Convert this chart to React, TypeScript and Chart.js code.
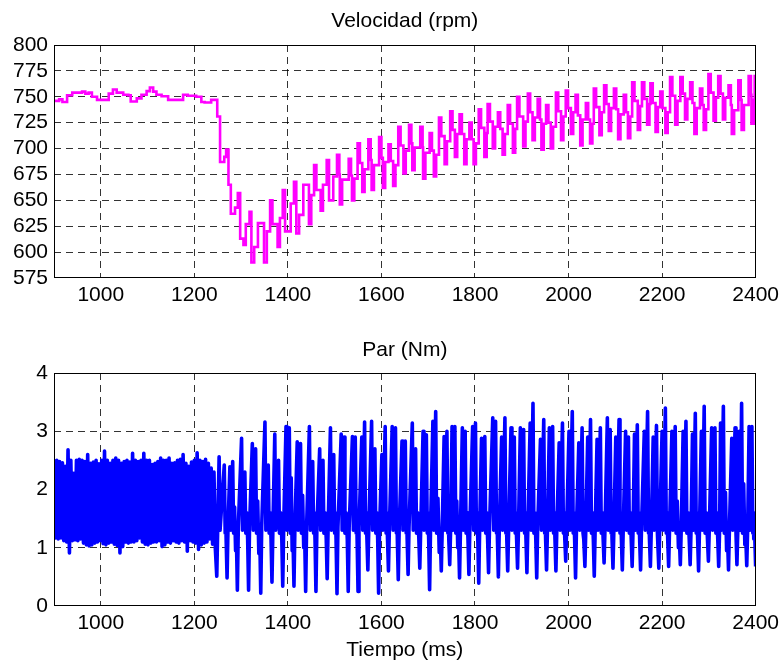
import React, { useEffect, useRef } from "react";
import { Chart, registerables } from "chart.js";

Chart.register(...registerables);

const FONT = "'Liberation Sans', Arial, Helvetica, sans-serif";

// ---------------- axes ----------------
const timeMin = 900;
const timeMax = 2400;
const timeTicks = [1000, 1200, 1400, 1600, 1800, 2000, 2200, 2400];
const velMin = 575;
const velMax = 800;
const velTicks = [575, 600, 625, 650, 675, 700, 725, 750, 775, 800];
const parMin = 0;
const parMax = 4;
const parTicks = [0, 1, 2, 3, 4];

const velTitle = "Velocidad (rpm)";
const parTitle = "Par (Nm)";
const timeTitle = "Tiempo (ms)";

// ---------------- velocity (rpm), step signal ----------------
const velStepT = [
  900, 911, 918, 928, 939, 960, 967, 974, 981, 992,
  1017, 1026, 1034, 1048, 1059, 1064, 1077, 1087, 1098, 1105,
  1112, 1119, 1130, 1144, 1176, 1186, 1204, 1215, 1222, 1236,
  1249, 1255, 1264, 1268, 1273, 1278, 1287, 1293, 1298, 1305,
  1310, 1318, 1322, 1328, 1336, 1349, 1355, 1362, 1367, 1378,
  1383, 1389, 1394, 1406, 1413, 1418, 1424, 1433, 1445, 1450,
  1456, 1461, 1470, 1475, 1483, 1488, 1497,
];
const velStepV = [
  746, 747.5, 745, 751.5, 754, 755, 753, 754, 750, 747,
  753, 757, 754, 752, 751.5, 745.5, 748.5, 752, 755.5, 759,
  755, 752, 750.5, 747, 752, 751, 750, 745, 744.5, 747,
  731, 687, 692, 699, 665, 637, 643, 657, 613, 607,
  627, 639, 590, 605, 628, 590, 620, 650, 627, 605,
  633, 660, 620, 647, 668, 618, 636, 665, 627, 655,
  684, 660, 640, 665, 689, 650, 673,
];
// later cycles: up spike, plateau, down spike, plateau
const velSpikeMs = 5;
const velUpT = [
  1505, 1530, 1549, 1572, 1595, 1615, 1636, 1659, 1683, 1703,
  1723, 1747, 1767, 1788, 1808, 1827, 1849, 1870, 1890, 1913,
  1934, 1952, 1973, 1994, 2015, 2037, 2054, 2076, 2097, 2118,
  2136, 2157, 2175, 2196, 2217, 2239, 2260, 2281, 2299, 2320,
  2342, 2363, 2385,
];
const velUpV = [
  694, 690, 705, 709, 711, 704, 721, 723, 721, 715,
  730, 736, 733, 725, 738, 743, 735, 742, 750, 753,
  748, 742, 754, 756, 752, 744, 758, 761, 758, 752,
  764, 764, 763, 755, 769, 769, 764, 758, 772, 770,
  761, 766, 770,
];
const velDnT = [
  1511, 1537, 1559, 1579, 1603, 1625, 1647, 1666, 1689, 1712,
  1735, 1757, 1777, 1797, 1820, 1838, 1859, 1881, 1903, 1923,
  1942, 1962, 1984, 2005, 2025, 2046, 2066, 2086, 2106, 2127,
  2148, 2168, 2186, 2207, 2228, 2249, 2269, 2289, 2310, 2330,
  2349, 2370, 2391,
];
const velDnV = [
  646, 650, 658, 660, 662, 664, 676, 679, 671, 673,
  685, 692, 685, 685, 692, 700, 694, 696, 702, 708,
  699, 700, 708, 714, 703, 705, 713, 717, 709, 710,
  718, 723, 716, 715, 723, 728, 714, 718, 727, 728,
  714, 718, 724,
];
const velMidHi = [
  675, 674, 686, 689, 691, 688, 703, 705, 701, 698,
  712, 718, 714, 709, 720, 726, 719, 724, 731, 735,
  728, 725, 736, 739, 732, 728, 740, 743, 738, 735,
  746, 748, 744, 739, 751, 753, 744, 742, 754, 753,
  742, 747, 752,
];
const velMidLo = [
  670, 671, 680, 684, 687, 684, 698, 701, 696, 694,
  707, 714, 709, 705, 715, 721, 714, 719, 726, 730,
  724, 721, 731, 735, 728, 724, 735, 739, 733, 731,
  741, 743, 740, 735, 746, 748, 739, 738, 749, 749,
  737, 742, 747,
];
const velEndT = [2398, 2400];
const velEndV = [770, 770];

// ---------------- torque (Nm) ----------------
// dense oscillation 900..1245 ms, sampled every 3 ms (high, low alternating)
const bandT0 = 900;
const bandStepMs = 3;
const bandHi = [
  2.52, 2.5, 2.48, 2.46, 2.4, 2.68, 2.5, 2.28, 2.5, 2.52,
  2.5, 2.48, 2.6, 2.45, 2.47, 2.5, 2.44, 2.5, 2.66, 2.5,
  2.45, 2.5, 2.54, 2.5, 2.45, 2.48, 2.5, 2.47, 2.62, 2.5,
  2.48, 2.5, 2.62, 2.5, 2.5, 2.43, 2.45, 2.48, 2.54, 2.5,
  2.5, 2.54, 2.45, 2.46, 2.5, 2.52, 2.6, 2.45, 2.4, 2.47,
  2.5, 2.63, 2.5, 2.48, 2.52, 2.45, 2.37, 2.3,
];
const bandLo = [
  1.17, 1.15, 1.17, 1.12, 1.1, 0.91, 1.12, 1.14, 1.12, 1.15,
  1.08, 1.05, 1.03, 1.05, 1.08, 1.1, 1.12, 1.07, 1.05, 1.08,
  1.1, 1.06, 1.04, 0.91, 1.02, 1.1, 1.08, 1.1, 1.1, 1.12,
  1.17, 1.1, 1.06, 1.05, 1.08, 1.1, 1.1, 1.12, 1.02, 1.05,
  1.1, 1.08, 1.12, 1.1, 1.08, 1.12, 1.1, 0.94, 1.12, 1.1,
  1.08, 0.97, 1.05, 1.08, 1.1, 1.15, 1.06, 0.97,
];
// combustion cycles after 1245 ms: trough, peak A, peak B, bump, dip
const troughT = [
  1248, 1270, 1292, 1316, 1342, 1366, 1389, 1413, 1438, 1460,
  1484, 1505, 1529, 1550, 1571, 1594, 1615, 1636, 1657, 1682,
  1703, 1728, 1746, 1767, 1787, 1808, 1829, 1850, 1870, 1891,
  1911, 1932, 1953, 1973, 1994, 2015, 2035, 2055, 2076, 2095,
  2115, 2136, 2154, 2175, 2193, 2214, 2239, 2260, 2278, 2299,
  2321, 2342, 2360, 2381,
];
const troughV = [
  0.51, 0.48, 0.27, 0.27, 0.22, 0.41, 0.34, 0.34, 0.25, 0.25,
  0.47, 0.21, 0.25, 0.25, 0.62, 0.22, 0.6, 0.45, 0.54, 0.65,
  0.28, 0.6, 0.71, 0.48, 0.54, 0.39, 0.57, 0.5, 0.6, 0.65,
  0.57, 0.48, 0.62, 0.6, 0.77, 0.48, 0.68, 0.51, 0.74, 0.65,
  0.62, 0.68, 0.62, 0.68, 0.65, 0.68, 0.71, 0.71, 0.6, 0.77,
  0.68, 0.62, 0.71, 0.69,
];
const peakAT = [
  1253, 1276, 1301, 1324, 1351, 1372, 1396, 1420, 1446, 1468,
  1491, 1514, 1538, 1558, 1579, 1601, 1623, 1644, 1666, 1689,
  1710, 1734, 1751, 1773, 1795, 1814, 1838, 1857, 1877, 1897,
  1918, 1940, 1959, 1980, 2001, 2022, 2041, 2061, 2083, 2101,
  2122, 2141, 2162, 2181, 2200, 2221, 2245, 2265, 2284, 2306,
  2325, 2349, 2365, 2386,
];
const peakAV = [
  2.56, 2.39, 2.88, 2.79, 3.16, 2.95, 3.08, 2.82, 3.08, 2.7,
  3.06, 2.95, 2.91, 2.9, 3.17, 2.6, 3.08, 2.83, 3.14, 3.0,
  3.17, 2.91, 3.08, 3.06, 3.08, 2.88, 3.23, 2.9, 3.06, 3.06,
  3.14, 2.86, 3.06, 2.8, 3.0, 2.8, 2.9, 2.86, 3.23, 2.9,
  3.0, 2.95, 3.0, 2.9, 3.0, 3.0, 3.0, 2.95, 3.0, 3.06,
  3.14, 2.88, 3.0, 3.08,
];
const peakBT = [
  1264, 1282, 1308, 1331, 1358, 1380, 1403, 1427, 1453, 1475,
  1498, 1520, 1544, 1564, 1586, 1608, 1630, 1651, 1673, 1696,
  1716, 1740, 1757, 1779, 1801, 1821, 1844, 1864, 1884, 1904,
  1924, 1947, 1966, 1987, 2008, 2029, 2047, 2068, 2089, 2108,
  2128, 2147, 2169, 2188, 2207, 2228, 2251, 2271, 2290, 2313,
  2331, 2356, 2370, 2392,
];
const peakBV = [
  2.42, 2.48, 2.3, 2.7, 2.42, 2.5, 3.06, 2.79, 2.48, 2.5,
  2.6, 2.9, 2.9, 3.16, 2.7, 3.08, 3.06, 2.83, 2.7, 2.94,
  3.34, 3.0, 3.08, 3.0, 3.14, 2.91, 3.17, 3.23, 2.9, 3.03,
  3.48, 3.2, 3.08, 3.14, 3.34, 3.06, 3.2, 3.06, 3.03, 3.2,
  2.9, 3.11, 3.34, 3.1, 3.4, 3.08, 3.17, 3.31, 3.43, 3.06,
  3.43, 3.06, 3.48, 3.08,
];
const bumpV = [
  1.9, 1.7, 2.1, 1.8, 2.0, 1.75, 2.2, 1.9, 1.8, 2.05,
  1.85, 2.1, 1.7, 1.95, 2.2, 1.8, 2.0, 1.9, 1.75, 2.15,
  1.85, 2.0, 1.8, 2.1, 1.9, 1.7, 2.05, 1.95, 1.8, 2.2,
  1.9, 1.75, 2.0, 2.1, 1.85, 1.95, 1.8, 2.15, 1.9, 2.0,
  1.75, 2.1, 1.85, 1.95, 2.05, 1.8, 2.0, 1.9, 2.2, 1.85,
  1.95, 1.8, 2.1, 1.9,
];
const dipV = [
  1.0, 0.95, 1.05, 0.9, 1.0, 1.1, 0.95, 1.0, 1.05, 0.92,
  1.0, 1.08, 0.95, 1.0, 0.9, 1.05, 1.0, 0.95, 1.1, 1.0,
  0.92, 1.05, 1.0, 0.95, 1.08, 1.0, 0.9, 1.0, 1.05, 0.95,
  1.0, 1.1, 0.95, 1.0, 1.05, 0.92, 1.0, 1.08, 0.95, 1.0,
  1.05, 0.95, 1.0, 1.1, 0.92, 1.0, 1.05, 0.95, 1.0, 1.08,
  0.95, 1.0, 1.05, 1.0,
];
// typical intermediate levels within each cycle
const lvAfterTrough = 1.35;
const lvAfterA = 1.3;
const lvAfterB = 1.25;
const lvPlateau = 1.6;
const lvPreTrough = 1.15;
const parEndT = [2398, 2400];
const parEndV = [1.25, 0.68];

type P = { x: number; y: number };

function buildVel(): P[] {
  const pts: P[] = velStepT.map((t, i) => ({ x: t, y: velStepV[i] }));
  velUpT.forEach((t, i) => {
    pts.push({ x: t, y: velUpV[i] });
    pts.push({ x: t + velSpikeMs, y: velMidHi[i] });
    pts.push({ x: velDnT[i], y: velDnV[i] });
    pts.push({ x: velDnT[i] + velSpikeMs, y: velMidLo[i] });
  });
  velEndT.forEach((t, i) => pts.push({ x: t, y: velEndV[i] }));
  return pts;
}

function buildPar(): P[] {
  const pts: P[] = [];
  bandHi.forEach((h, i) => {
    pts.push({ x: bandT0 + 2 * i * bandStepMs, y: h });
    pts.push({ x: bandT0 + (2 * i + 1) * bandStepMs, y: bandLo[i] });
  });
  troughT.forEach((t, i) => {
    pts.push({ x: t, y: troughV[i] });
    pts.push({ x: t + 2, y: lvAfterTrough });
    pts.push({ x: peakAT[i], y: peakAV[i] });
    pts.push({ x: peakAT[i] + 2, y: lvAfterA });
    pts.push({ x: peakBT[i], y: peakBV[i] });
    pts.push({ x: peakBT[i] + 2, y: lvAfterB });
    const next = i + 1 < troughT.length ? troughT[i + 1] : parEndT[0];
    const a = peakBT[i] + 2;
    const b = next - 2;
    const span = b - a;
    if (span >= 6) {
      pts.push({ x: a + span * 0.35, y: bumpV[i] });
      pts.push({ x: a + span * 0.7, y: dipV[i] });
      pts.push({ x: b, y: lvPreTrough });
    } else if (span > 1.5) {
      pts.push({ x: a + span / 2, y: lvPlateau });
      pts.push({ x: b, y: lvPreTrough });
    }
  });
  parEndT.forEach((t, i) => pts.push({ x: t, y: parEndV[i] }));
  return pts;
}

const framePlugin = {
  id: "frame",
  afterDraw(chart: any) {
    const { ctx, chartArea: a } = chart;
    ctx.save();
    ctx.strokeStyle = "#000";
    ctx.lineWidth = 1;
    ctx.setLineDash([]);
    const l = Math.round(a.left) + 0.5;
    const t = Math.round(a.top) + 0.5;
    const r = Math.round(a.right) - 0.5;
    const b = Math.round(a.bottom) - 0.5;
    ctx.strokeRect(l, t, r - l, b - t);
    ctx.restore();
  },
};

const subplotTitlePlugin = {
  id: "subplotTitle",
  afterDraw(chart: any, _args: any, opts: any) {
    if (!opts || !opts.text) return;
    const { ctx, chartArea: a } = chart;
    ctx.save();
    ctx.fillStyle = "#000";
    ctx.font = `21px ${FONT}`;
    ctx.textAlign = "center";
    ctx.textBaseline = "middle";
    ctx.fillText(opts.text, (a.left + a.right) / 2, opts.y);
    ctx.restore();
  },
};

const gridColor = (min: number, max: number) => (c: any) =>
  c.tick && (c.tick.value === min || c.tick.value === max) ? "rgba(0,0,0,0)" : "rgba(0,0,0,0.8)";

function xScale(height: number, withTitle: boolean) {
  return {
    type: "linear",
    min: timeMin,
    max: timeMax,
    afterBuildTicks: (s: any) => {
      s.ticks = timeTicks.map((v) => ({ value: v }));
    },
    afterFit: (s: any) => {
      s.height = height;
    },
    ticks: {
      font: { family: FONT, size: 21 },
      color: "#000",
      padding: 5,
      maxRotation: 0,
      autoSkip: false,
      callback: (v: any) => String(v),
    },
    grid: { drawTicks: false, color: gridColor(timeMin, timeMax), lineWidth: 1 },
    border: { display: false, dash: [7, 5] },
    title: {
      display: withTitle,
      text: timeTitle,
      color: "#000",
      font: { family: FONT, size: 21, lineHeight: 1.1 },
      padding: { top: 0, bottom: 0 },
    },
  };
}

function yScale(min: number, max: number, ticks: number[]) {
  return {
    type: "linear",
    min,
    max,
    afterBuildTicks: (s: any) => {
      s.ticks = ticks.map((v) => ({ value: v }));
    },
    afterFit: (s: any) => {
      s.width = 54;
    },
    ticks: {
      font: { family: FONT, size: 21 },
      color: "#000",
      padding: 6,
      autoSkip: false,
      callback: (v: any) => String(v),
    },
    grid: { drawTicks: false, color: gridColor(min, max), lineWidth: 1 },
    border: { display: false, dash: [7, 5] },
  };
}

export default function App() {
  const velRef = useRef<HTMLCanvasElement>(null);
  const parRef = useRef<HTMLCanvasElement>(null);

  useEffect(() => {
    const common = {
      responsive: false,
      maintainAspectRatio: false,
      animation: false,
      devicePixelRatio: 1,
      events: [],
    };
    const c1 = new Chart(velRef.current as HTMLCanvasElement, {
      type: "line",
      data: {
        datasets: [
          {
            data: buildVel(),
            borderColor: "#FF00FF",
            borderWidth: 2.6,
            pointRadius: 0,
            stepped: true,
            fill: false,
            tension: 0,
          },
        ],
      },
      options: {
        ...common,
        layout: { padding: { left: 0, right: 26, top: 45, bottom: 0 } },
        plugins: {
          legend: { display: false },
          tooltip: { enabled: false },
          title: { display: false },
          subplotTitle: { text: velTitle, y: 21 },
        },
        scales: {
          x: xScale(53, false),
          y: yScale(velMin, velMax, velTicks),
        },
      } as any,
      plugins: [framePlugin, subplotTitlePlugin],
    } as any);

    const c2 = new Chart(parRef.current as HTMLCanvasElement, {
      type: "line",
      data: {
        datasets: [
          {
            data: buildPar(),
            borderColor: "#0000FF",
            borderWidth: 3.6,
            borderJoinStyle: "round",
            pointRadius: 0,
            fill: false,
            tension: 0,
          },
        ],
      },
      options: {
        ...common,
        layout: { padding: { left: 0, right: 26, top: 42, bottom: 0 } },
        plugins: {
          legend: { display: false },
          tooltip: { enabled: false },
          title: { display: false },
          subplotTitle: { text: parTitle, y: 19 },
        },
        scales: {
          x: xScale(56, true),
          y: yScale(parMin, parMax, parTicks),
        },
      } as any,
      plugins: [framePlugin, subplotTitlePlugin],
    } as any);

    return () => {
      c1.destroy();
      c2.destroy();
    };
  }, []);

  return (
    <div style={{ position: "fixed", left: 0, top: 0, width: 784, height: 662, background: "#fff" }}>
      <canvas
        ref={velRef}
        width={784}
        height={331}
        style={{ position: "absolute", left: 0, top: 0, width: 784, height: 331 }}
      />
      <canvas
        ref={parRef}
        width={784}
        height={331}
        style={{ position: "absolute", left: 0, top: 331, width: 784, height: 331 }}
      />
    </div>
  );
}
